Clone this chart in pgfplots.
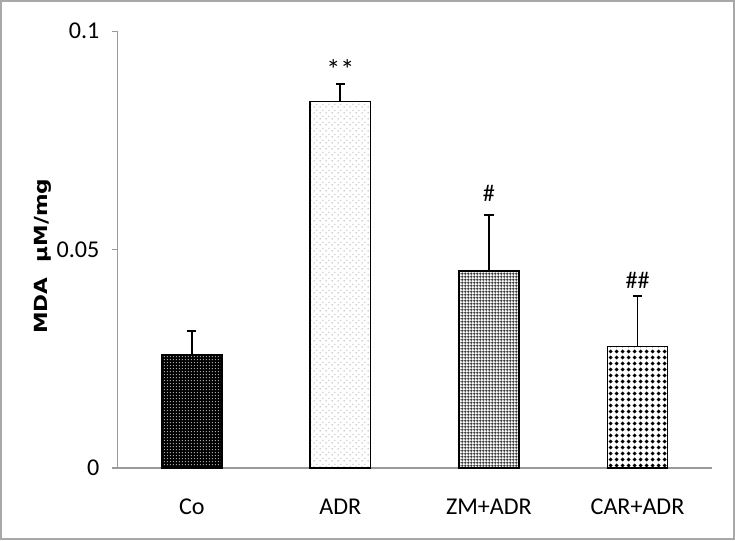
\documentclass[border=0pt]{standalone}
\usepackage{pgfplots}
\pgfplotsset{compat=1.18}
\usepackage{fontspec}
\setmainfont{Carlito}
\newfontfamily\labfont{DejaVu Sans}
\usetikzlibrary{patterns}
\pgfdeclarepatternformonly{finedots}{\pgfpointorigin}{\pgfpoint{1.7pt}{1.7pt}}{\pgfpoint{1.7pt}{1.7pt}}{%
  \pgfpathrectangle{\pgfpoint{0.5pt}{0.5pt}}{\pgfpoint{0.55pt}{0.55pt}}\pgfusepath{fill}}
\pgfdeclarepatternformonly{sparsedots}{\pgfpointorigin}{\pgfpoint{3pt}{3pt}}{\pgfpoint{3pt}{3pt}}{%
  \pgfpathrectangle{\pgfpoint{0.4pt}{0.4pt}}{\pgfpoint{0.55pt}{0.55pt}}\pgfusepath{fill}%
  \pgfpathrectangle{\pgfpoint{1.9pt}{1.9pt}}{\pgfpoint{0.55pt}{0.55pt}}\pgfusepath{fill}}
\pgfdeclarepatternformonly{finegrid}{\pgfpointorigin}{\pgfpoint{1.4pt}{1.4pt}}{\pgfpoint{1.4pt}{1.4pt}}{%
  \pgfsetlinewidth{0.45pt}%
  \pgfpathmoveto{\pgfpoint{0pt}{0.7pt}}\pgfpathlineto{\pgfpoint{1.4pt}{0.7pt}}%
  \pgfpathmoveto{\pgfpoint{0.7pt}{0pt}}\pgfpathlineto{\pgfpoint{0.7pt}{1.4pt}}\pgfusepath{stroke}}
\pgfdeclarepatternformonly{diamonds}{\pgfpointorigin}{\pgfpoint{3pt}{3pt}}{\pgfpoint{3pt}{3pt}}{%
  \pgfpathmoveto{\pgfpoint{1.5pt}{0.35pt}}\pgfpathlineto{\pgfpoint{2.65pt}{1.5pt}}%
  \pgfpathlineto{\pgfpoint{1.5pt}{2.65pt}}\pgfpathlineto{\pgfpoint{0.35pt}{1.5pt}}\pgfpathclose\pgfusepath{fill}}
\definecolor{axgray}{HTML}{9A9A9A}
\definecolor{framegray}{HTML}{A8A8A8}
\begin{document}
\begin{tikzpicture}
\begin{axis}[
  at={(0,0)}, anchor=south west,
  scale only axis, width=296pt, height=217.5pt,
  xmin=-0.5, xmax=3.5, ymin=0, ymax=0.1,
  axis x line*=bottom, axis y line*=left,
  axis line style={axgray, line width=0.7pt},
  xtick={0,1,2,3},
  xticklabels={Co,ADR,ZM+ADR,CAR+ADR},
  minor xtick={-0.5,0.5,1.5,2.5,3.5},
  xtick style={draw=none},
  minor x tick style={axgray, line width=0.7pt},
  minor tick length=5pt,
  ytick={0,0.05,0.1},
  yticklabels={0,0.05,0.1},
  y tick style={axgray, line width=0.7pt},
  tick align=outside,
  major tick length=3pt,
  ticklabel style={font=\fontsize{12}{13}\selectfont, text=black},
  /pgf/number format/assume math mode=true,
  xticklabel style={yshift=-9pt},
  yticklabel style={xshift=-2.5pt},
  clip=false,
]
\addplot[ybar, bar width=30pt, draw=black, line width=0.8pt, fill=black,
  postaction={pattern=finedots, pattern color=gray!70},
  error bars/.cd, y dir=plus, y explicit,
  error bar style={black, line width=0.9pt},
  error mark options={black, line width=0.9pt, mark size=2.3pt, rotate=90}]
  coordinates {(0,0.026) +- (0,0.0053)};
\addplot[ybar, bar width=30pt, draw=black, line width=0.8pt, fill=white,
  postaction={pattern=sparsedots, pattern color=gray!80},
  error bars/.cd, y dir=plus, y explicit,
  error bar style={black, line width=0.9pt},
  error mark options={black, line width=0.9pt, mark size=2.3pt, rotate=90}]
  coordinates {(1,0.0839) +- (0,0.0041)};
\addplot[ybar, bar width=30pt, draw=black, line width=0.8pt, fill=white,
  postaction={pattern=finegrid, pattern color=black!85},
  error bars/.cd, y dir=plus, y explicit,
  error bar style={black, line width=0.9pt},
  error mark options={black, line width=0.9pt, mark size=2.3pt, rotate=90}]
  coordinates {(2,0.0451) +- (0,0.0129)};
\addplot[ybar, bar width=30pt, draw=black, line width=0.8pt, fill=white,
  postaction={pattern=diamonds, pattern color=black},
  error bars/.cd, y dir=plus, y explicit,
  error bar style={black, line width=0.9pt},
  error mark options={black, line width=0.9pt, mark size=2.3pt, rotate=90}]
  coordinates {(3,0.0278) +- (0,0.0115)};
\node[font=\fontsize{14}{14}\selectfont] at (axis cs:1,0.0912) {**};
\node[font=\fontsize{12}{12}\selectfont] at (axis cs:2,0.0628) {\#};
\node[font=\fontsize{12}{12}\selectfont] at (axis cs:3,0.0430) {\#\#};
\end{axis}
\node[rotate=90, xscale=1.2, font=\labfont\bfseries\fontsize{9}{10}\selectfont] at (-37pt,105.5pt) {MDA\ \ µM/mg};
\draw[framegray, line width=1.1pt] (-58pt,-35.5pt) rectangle (307pt,232.5pt);
\end{tikzpicture}
\end{document}
